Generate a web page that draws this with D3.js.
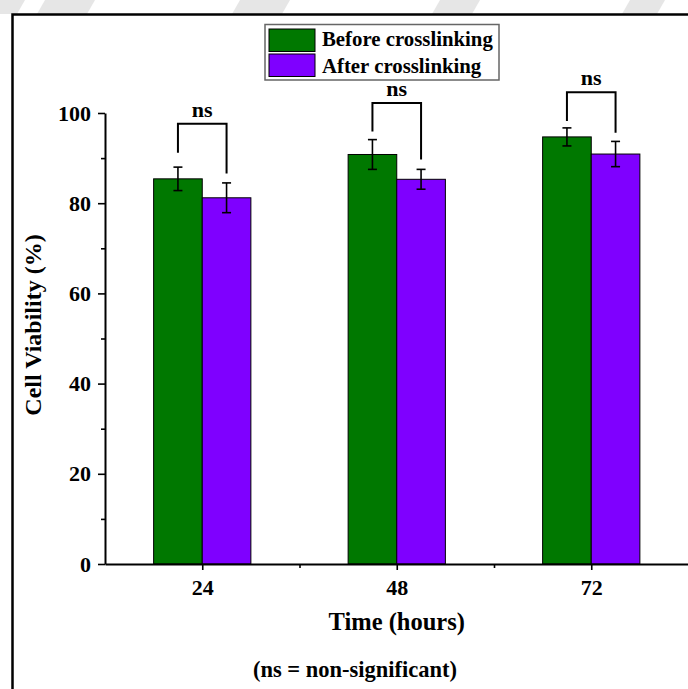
<!DOCTYPE html>
<html>
<head>
<meta charset="utf-8">
<script src="https://cdn.jsdelivr.net/npm/d3@7/dist/d3.min.js"></script>
<style>
  html, body { margin: 0; padding: 0; background: #ffffff; }
  svg { display: block; }
  text { font-family: "Liberation Serif", "Times New Roman", serif; font-weight: bold; fill: #000; }
</style>
</head>
<body>
<script>
// Cell viability before/after crosslinking at each time point
const categories = ["24", "48", "72"];
const seriesNames = ["Before crosslinking", "After crosslinking"];
const beforeValues = [85.4, 90.8, 94.7];
const beforeErrors = [2.6, 3.3, 2.0];
const afterValues = [81.2, 85.3, 90.9];
const afterErrors = [3.3, 2.2, 2.8];
// significance brackets (value units): top bar, left leg end, right leg end
const bracketTop = [97.6, 102.2, 104.6];
const bracketLeftEnd = [91.2, 95.9, 98.2];
const bracketRightEnd = [86.6, 89.7, 95.6];
const bracketLabels = ["ns", "ns", "ns"];
const yTicks = [0, 20, 40, 60, 80, 100];
const yMinorTicks = [10, 30, 50, 70, 90];

const W = 688, H = 689;
const colors = ["#007800", "#7f00ff"];

const svg = d3.select("body").append("svg").attr("width", W).attr("height", H);

// faint background marks along the top margin
const wm = svg.append("g").attr("fill", "#e6e6e6");
[[0, 25], [45, 95], [240, 290], [440, 480], [630, 665]].forEach(([a, b]) => {
  wm.append("path").attr("d", `M${a},0 L${b},0 L${b - 8},14 L${a - 8},14 Z`);
});

// outer frame
svg.append("path").attr("d", `M12.5,${H + 5} L12.5,14.5 L${W + 5},14.5`)
  .attr("fill", "none").attr("stroke", "#000").attr("stroke-width", 2.5);

const x = d3.scaleLinear().domain([0.5, 3.5]).range([105, 688.5]);
const y = d3.scaleLinear().domain([0, 100]).range([564, 113]);
const barW = 0.25;

const series = [
  { vals: beforeValues, errs: beforeErrors, off: -barW },
  { vals: afterValues, errs: afterErrors, off: 0 }
];

// bars
series.forEach((s, si) => {
  svg.append("g").selectAll("rect").data(s.vals).join("rect")
    .attr("x", (d, i) => x(i + 1 + s.off))
    .attr("width", (d, i) => x(i + 1 + s.off + barW) - x(i + 1 + s.off))
    .attr("y", d => y(d))
    .attr("height", d => y(0) - y(d))
    .attr("fill", colors[si])
    .attr("stroke", "#000").attr("stroke-width", 1);
});

// error bars
series.forEach((s) => {
  const g = svg.append("g").attr("stroke", "#000").attr("stroke-width", 1.6).attr("fill", "none");
  s.vals.forEach((v, i) => {
    const cx = x(i + 1 + s.off + barW / 2);
    const e = s.errs[i];
    g.append("line").attr("x1", cx).attr("x2", cx).attr("y1", y(v + e)).attr("y2", y(v - e));
    g.append("line").attr("x1", cx - 4.5).attr("x2", cx + 4.5).attr("y1", y(v + e)).attr("y2", y(v + e));
    g.append("line").attr("x1", cx - 4.5).attr("x2", cx + 4.5).attr("y1", y(v - e)).attr("y2", y(v - e));
  });
});

// significance brackets
const bg = svg.append("g");
categories.forEach((c, i) => {
  const xl = x(i + 1 - barW / 2), xr = x(i + 1 + barW / 2);
  bg.append("path")
    .attr("d", `M${xl},${y(bracketLeftEnd[i])} L${xl},${y(bracketTop[i])} L${xr},${y(bracketTop[i])} L${xr},${y(bracketRightEnd[i])}`)
    .attr("fill", "none").attr("stroke", "#000").attr("stroke-width", 2);
  bg.append("text").attr("x", (xl + xr) / 2).attr("y", y(bracketTop[i]) - 7)
    .attr("text-anchor", "middle").attr("font-size", 22).text(bracketLabels[i]);
});

// y axis
svg.append("g").attr("transform", `translate(${x(0.5)},0)`)
  .call(d3.axisLeft(y).tickValues(yTicks).tickSize(7).tickSizeOuter(0).tickPadding(7));
svg.append("g").attr("transform", `translate(${x(0.5)},0)`)
  .call(d3.axisLeft(y).tickValues(yMinorTicks).tickSize(4).tickFormat("").tickSizeOuter(0))
  .call(g => g.select(".domain").remove());

// x axis
svg.append("g").attr("transform", `translate(0,${y(0)})`)
  .call(d3.axisBottom(x).tickValues([1, 2, 3]).tickFormat(i => categories[i - 1])
    .tickSize(6).tickSizeOuter(0).tickPadding(9));
svg.append("g").attr("transform", `translate(0,${y(0)})`)
  .call(d3.axisBottom(x).tickValues([1.5, 2.5]).tickSize(4).tickFormat("").tickSizeOuter(0))
  .call(g => g.select(".domain").remove());

svg.selectAll(".domain").attr("stroke-width", 2);
svg.selectAll(".tick line").attr("stroke-width", 1.6);
svg.selectAll(".tick text").attr("font-size", 22)
  .style("font-family", "'Liberation Serif', 'Times New Roman', serif").style("font-weight", "bold");

// axis titles
svg.append("text").attr("x", (x(0.5) + x(3.5)) / 2).attr("y", 630)
  .attr("text-anchor", "middle").attr("font-size", 24.5).text("Time (hours)");
svg.append("text").attr("transform", `translate(41,325) rotate(-90)`)
  .attr("text-anchor", "middle").attr("font-size", 24).text("Cell Viability (%)");
svg.append("text").attr("x", 355).attr("y", 677)
  .attr("text-anchor", "middle").attr("font-size", 22.5).text("(ns = non-significant)");

// legend
const lg = svg.append("g");
lg.append("rect").attr("x", 265).attr("y", 24.5).attr("width", 234).attr("height", 55.5)
  .attr("fill", "#fff").attr("stroke", "#666").attr("stroke-width", 1.5);
seriesNames.forEach((name, i) => {
  lg.append("rect").attr("x", 269).attr("y", 29 + i * 25).attr("width", 46).attr("height", 22.5)
    .attr("fill", colors[i]).attr("stroke", "#000").attr("stroke-width", 1);
  lg.append("text").attr("x", 322).attr("y", 46 + i * 26.5).attr("font-size", 20.8).text(name);
});
</script>
</body>
</html>
